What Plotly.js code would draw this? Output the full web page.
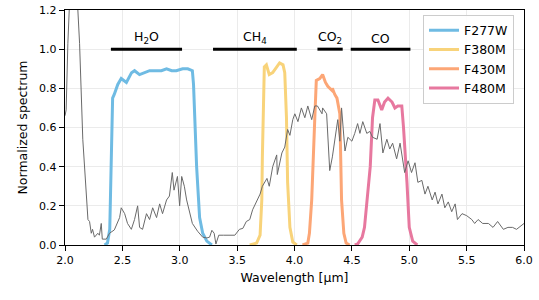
<!DOCTYPE html>
<html>
<head>
<meta charset="utf-8">
<script src="https://cdn.plot.ly/plotly-3.0.1.min.js"></script>
<style>html,body{margin:0;padding:0;background:#fff;}#chart{width:539px;height:300px;}</style>
</head>
<body>
<div id="chart"></div>
<script>
// Gray spectrum
const specX = [2.00,2.01,2.025,2.033,2.065,2.09,2.11,2.127,2.155,2.18,2.20,2.214,2.229,2.24,2.257,2.286,2.30,2.316,2.325,2.36,2.388,2.43,2.476,2.49,2.52,2.545,2.578,2.606,2.633,2.65,2.676,2.71,2.737,2.764,2.798,2.825,2.85,2.885,2.91,2.935,2.95,2.98,2.999,3.017,3.04,3.06,3.086,3.11,3.156,3.20,3.236,3.26,3.28,3.30,3.315,3.34,3.38,3.435,3.48,3.52,3.55,3.58,3.61,3.635,3.67,3.70,3.72,3.76,3.78,3.81,3.845,3.85,3.89,3.915,3.94,3.96,3.985,4.003,4.03,4.06,4.09,4.116,4.15,4.177,4.20,4.24,4.245,4.28,4.307,4.33,4.377,4.395,4.41,4.44,4.465,4.50,4.525,4.55,4.57,4.595,4.63,4.657,4.68,4.72,4.745,4.77,4.805,4.83,4.855,4.89,4.92,4.96,4.99,5.02,5.05,5.075,5.11,5.137,5.163,5.20,5.225,5.25,5.285,5.31,5.34,5.37,5.40,5.42,5.46,5.50,5.545,5.57,5.60,5.64,5.69,5.73,5.77,5.82,5.86,5.90,5.935,5.98,6.00];
const specY = [0.66,0.69,1.03,1.25,1.60,1.45,1.20,1.03,0.54,0.30,0.13,0.12,0.06,0.08,0.04,0.06,0.05,0.11,0.03,0.03,0.06,0.077,0.14,0.19,0.16,0.11,0.08,0.13,0.20,0.09,0.08,0.16,0.13,0.19,0.14,0.21,0.16,0.23,0.25,0.37,0.28,0.35,0.20,0.35,0.30,0.23,0.16,0.11,0.07,0.04,0.036,0.04,0.075,0.06,0.005,0.05,0.05,0.05,0.05,0.08,0.085,0.12,0.13,0.18,0.22,0.26,0.30,0.34,0.30,0.40,0.46,0.36,0.47,0.50,0.59,0.56,0.64,0.67,0.63,0.70,0.65,0.71,0.64,0.71,0.71,0.67,0.70,0.67,0.38,0.45,0.64,0.53,0.70,0.48,0.55,0.53,0.57,0.62,0.57,0.63,0.57,0.58,0.55,0.54,0.62,0.47,0.54,0.49,0.52,0.44,0.52,0.37,0.43,0.37,0.42,0.32,0.33,0.26,0.30,0.23,0.27,0.21,0.26,0.19,0.22,0.17,0.21,0.13,0.16,0.15,0.13,0.11,0.13,0.11,0.11,0.09,0.12,0.08,0.09,0.09,0.08,0.10,0.11];

// Filter throughputs
const f277wX = [2.345,2.37,2.39,2.40,2.415,2.43,2.46,2.49,2.535,2.58,2.606,2.65,2.69,2.737,2.80,2.84,2.885,2.93,2.97,3.025,3.07,3.11,3.12,3.134,3.147,3.173,3.20,3.236,3.28];
const f277wY = [0.0,0.01,0.08,0.30,0.75,0.77,0.82,0.85,0.83,0.88,0.89,0.87,0.88,0.89,0.89,0.89,0.90,0.89,0.89,0.90,0.90,0.89,0.82,0.60,0.40,0.14,0.06,0.02,0.0];
const f380mX = [3.61,3.67,3.70,3.715,3.72,3.73,3.737,3.755,3.78,3.81,3.845,3.87,3.90,3.915,3.93,3.94,3.96,3.985,4.02];
const f380mY = [0.0,0.01,0.05,0.23,0.45,0.74,0.91,0.92,0.87,0.88,0.91,0.93,0.92,0.88,0.65,0.32,0.09,0.015,0.0];
const f430mX = [4.07,4.116,4.13,4.15,4.177,4.19,4.22,4.245,4.27,4.29,4.325,4.33,4.35,4.37,4.395,4.40,4.41,4.43,4.45,4.48];
const f430mY = [0.0,0.01,0.06,0.23,0.65,0.84,0.85,0.87,0.83,0.81,0.79,0.80,0.77,0.75,0.67,0.50,0.23,0.06,0.01,0.0];
const f480mX = [4.525,4.55,4.59,4.61,4.66,4.68,4.70,4.727,4.76,4.785,4.815,4.85,4.875,4.90,4.935,4.95,4.98,5.00,5.03,5.07];
const f480mY = [0.0,0.005,0.04,0.09,0.40,0.65,0.74,0.74,0.69,0.73,0.75,0.73,0.70,0.71,0.71,0.60,0.32,0.09,0.02,0.0];

const filterNames = ["F277W","F380M","F430M","F480M"];
const filterColors = ["#6FBBE3","#F8D37A","#FCA676","#E7789F"];

// Molecule bands
const bandLabels = ["H<sub>2</sub>O","CH<sub>4</sub>","CO<sub>2</sub>","CO"];
const bandStart = [2.40,3.29,4.20,4.49];
const bandEnd = [3.02,4.02,4.42,5.01];
const bandLevel = 1.0;

const xTicks = [2.0,2.5,3.0,3.5,4.0,4.5,5.0,5.5,6.0];
const yTicks = [0.0,0.2,0.4,0.6,0.8,1.0,1.2];

const filtersX = [f277wX,f380mX,f430mX,f480mX];
const filtersY = [f277wY,f380mY,f430mY,f480mY];

const traces = [];
for (let i = 0; i < filterNames.length; i++) {
  traces.push({x: filtersX[i], y: filtersY[i], type: 'scatter', mode: 'lines', name: filterNames[i],
    line: {color: filterColors[i], width: 3}});
}
traces.push({x: specX, y: specY, type: 'scatter', mode: 'lines', showlegend: false, hoverinfo: 'skip',
  line: {color: '#6a6a6a', width: 1}});

const shapes = [];
const annotations = [];
for (let i = 0; i < bandLabels.length; i++) {
  shapes.push({type: 'line', xref: 'x', yref: 'y', x0: bandStart[i], x1: bandEnd[i], y0: bandLevel, y1: bandLevel,
    line: {color: '#000', width: 3}});
  annotations.push({xref: 'x', yref: 'y', x: (bandStart[i] + bandEnd[i]) / 2, y: bandLevel, text: bandLabels[i],
    showarrow: false, yanchor: 'bottom', yshift: 1, font: {family: 'DejaVu Sans', size: 12.5, color: '#000'}});
}

const layout = {
  width: 539, height: 300,
  margin: {l: 65, r: 15, t: 10, b: 55},
  paper_bgcolor: '#fff', plot_bgcolor: '#fff',
  font: {family: 'DejaVu Sans', size: 11, color: '#000'},
  showlegend: true,
  legend: {x: 0.78, y: 0.98, xanchor: 'left', yanchor: 'top', bgcolor: 'rgba(255,255,255,0.9)',
    bordercolor: '#cccccc', borderwidth: 1, font: {family: 'DejaVu Sans', size: 12.5, color: '#000'},
    tracegroupgap: 0, itemwidth: 30},
  xaxis: {range: [2.0, 6.0], tickvals: xTicks, ticktext: xTicks.map(v => v.toFixed(1)),
    ticks: 'outside', ticklen: 5, tickwidth: 1, tickcolor: '#000',
    showline: true, linecolor: '#000', linewidth: 1.2, mirror: true,
    showgrid: true, gridcolor: '#ebebeb', gridwidth: 1, zeroline: false,
    tickfont: {family: 'DejaVu Sans', size: 11},
    title: {text: 'Wavelength [µm]', font: {family: 'DejaVu Sans', size: 12.5}, standoff: 6}},
  yaxis: {range: [0.0, 1.2], tickvals: yTicks, ticktext: yTicks.map(v => v.toFixed(1)),
    ticks: 'outside', ticklen: 5, tickwidth: 1, tickcolor: '#000',
    showline: true, linecolor: '#000', linewidth: 1.2, mirror: true,
    showgrid: true, gridcolor: '#ebebeb', gridwidth: 1, zeroline: false,
    tickfont: {family: 'DejaVu Sans', size: 11},
    title: {text: 'Normalized spectrum', font: {family: 'DejaVu Sans', size: 12.5}, standoff: 8}},
  shapes: shapes,
  annotations: annotations
};

Plotly.newPlot('chart', traces, layout, {displayModeBar: false, staticPlot: true});
</script>
</body>
</html>
